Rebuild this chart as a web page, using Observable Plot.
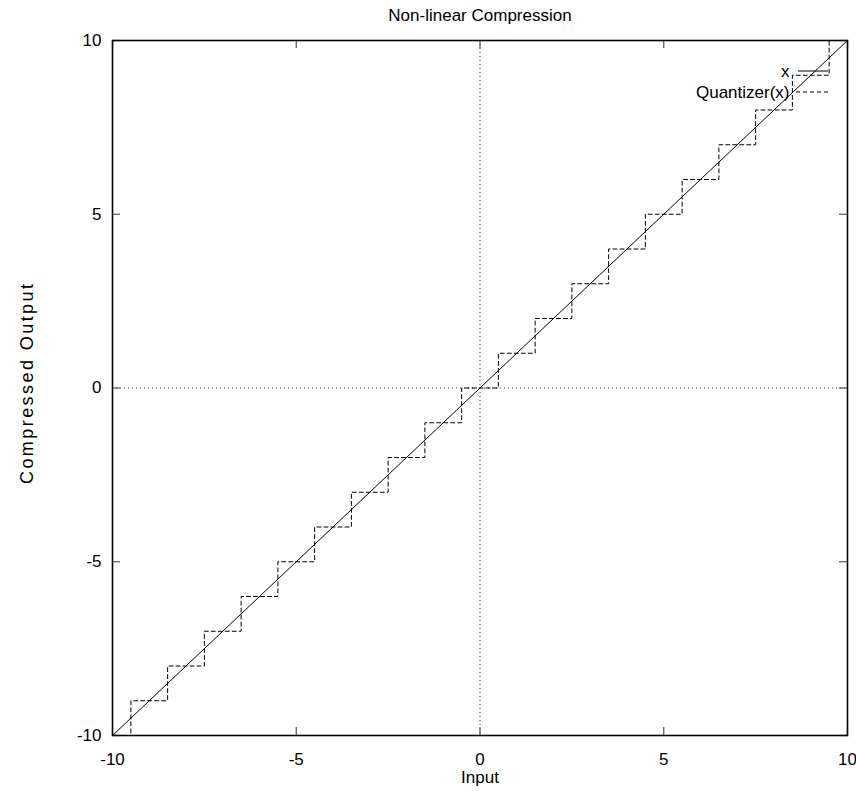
<!DOCTYPE html>
<html>
<head>
<meta charset="utf-8">
<script src="https://cdn.jsdelivr.net/npm/d3@7"></script>
<script src="https://cdn.jsdelivr.net/npm/@observablehq/plot@0.6"></script>
<style>
  html, body { margin: 0; padding: 0; background: #fff; }
  body { width: 856px; font-family: "Liberation Sans", Arial, sans-serif; }
  #title { height: 30px; position: relative; }
  #title span { position: absolute; left: 0; width: 960px; text-align: center; top: 7px; font-size: 17px; color: #000; line-height: 17px; }
  #chart svg { display: block; }
</style>
</head>
<body>
<div id="title"><span id="titleText"></span></div>
<div id="chart"></div>
<script>
// ---- data ----
const titleText = "Non-linear Compression";
const xLabel = "Input";
const yLabel = "Compressed Output";
const xTicks = [-10, -5, 0, 5, 10];
const yTicks = [-10, -5, 0, 5, 10];
const identityX = [-10, 10];
const identityY = [-10, 10];
// quantizer step breakpoints (step-after) and levels
const quantX = [-10, -9.5, -8.5, -7.5, -6.5, -5.5, -4.5, -3.5, -2.5, -1.5, -0.5, 0.5, 1.5, 2.5, 3.5, 4.5, 5.5, 6.5, 7.5, 8.5, 9.5, 10];
const quantY = [-10, -9, -8, -7, -6, -5, -4, -3, -2, -1, 0, 1, 2, 3, 4, 5, 6, 7, 8, 9, 10, 10];
const zeroAxis = [0];
const seriesNames = ["x", "Quantizer(x)"];

document.getElementById("titleText").textContent = titleText;

const identity = identityX.map((x, i) => ({x, y: identityY[i]}));
const quant = quantX.map((x, i) => ({x, y: quantY[i]}));

const W = 856, H = 761;
const mL = 112, mR = 9, mT = 10, mB = 56;
const plotW = W - mL - mR, plotH = H - mT - mB;
const tickLen = 8;

const plot = Plot.plot({
  width: W,
  height: H,
  marginLeft: mL,
  marginRight: mR,
  marginTop: mT,
  marginBottom: mB,
  style: {fontFamily: '"Liberation Sans", Arial, sans-serif', fontSize: "17px", background: "white", color: "black"},
  x: {domain: [-10, 10], axis: null},
  y: {domain: [-10, 10], axis: null},
  marks: [
    Plot.ruleX(zeroAxis, {x: d => d, stroke: "#333", strokeWidth: 1, strokeDasharray: "1,3"}),
    Plot.ruleY(zeroAxis, {y: d => d, stroke: "#333", strokeWidth: 1, strokeDasharray: "1,3"}),
    // inward ticks
    Plot.tickX(xTicks, {x: d => d, insetTop: plotH - tickLen, stroke: "#555", strokeWidth: 1.2}),
    Plot.tickX(xTicks, {x: d => d, insetBottom: plotH - tickLen, stroke: "#555", strokeWidth: 1.2}),
    Plot.tickY(yTicks, {y: d => d, insetRight: plotW - tickLen, stroke: "#555", strokeWidth: 1.2}),
    Plot.tickY(yTicks, {y: d => d, insetLeft: plotW - tickLen, stroke: "#555", strokeWidth: 1.2}),
    // series
    Plot.line(identity, {x: "x", y: "y", stroke: "black", strokeWidth: 1}),
    Plot.line(quant, {x: "x", y: "y", curve: "step-after", stroke: "black", strokeWidth: 1, strokeDasharray: "4,3"}),
    Plot.frame({stroke: "black", strokeWidth: 1.6}),
    // tick labels
    Plot.text(xTicks, {x: d => d, frameAnchor: "bottom", dy: 24, text: d => String(d), lineAnchor: "middle", fill: "black"}),
    Plot.text(yTicks, {y: d => d, frameAnchor: "left", dx: -11, text: d => String(d), textAnchor: "end", lineAnchor: "middle", fill: "black"}),
    // axis labels
    Plot.text([xLabel], {frameAnchor: "bottom", dy: 42, text: d => d, lineAnchor: "middle", fill: "black"}),
    Plot.text([yLabel], {frameAnchor: "left", dx: -85, dy: -4, rotate: -90, text: d => d, textAnchor: "middle", lineAnchor: "middle", fontSize: 18, fill: "black"}),
    // legend labels
    Plot.text([seriesNames[0]], {frameAnchor: "top-right", dx: -58, dy: 31, text: d => d, textAnchor: "end", lineAnchor: "middle", fill: "black"}),
    Plot.text([seriesNames[1]], {frameAnchor: "top-right", dx: -58, dy: 52, text: d => d, textAnchor: "end", lineAnchor: "middle", fill: "black"})
  ]
});

const svg = d3.select(plot);
// stretch y label to reference length
svg.selectAll("text").filter(function() { return this.textContent === yLabel; })
  .attr("textLength", 200).attr("lengthAdjust", "spacing");

// legend line samples (pixel positioned, inside frame top-right)
const xr = W - mR;
const lg = svg.append("g");
lg.append("line").attr("x1", xr - 49).attr("x2", xr - 19).attr("y1", mT + 31).attr("y2", mT + 31)
  .attr("stroke", "black").attr("stroke-width", 1);
lg.append("line").attr("x1", xr - 51).attr("x2", xr - 19).attr("y1", mT + 52).attr("y2", mT + 52)
  .attr("stroke", "black").attr("stroke-width", 1).attr("stroke-dasharray", "4,3");

document.getElementById("chart").appendChild(plot);
</script>
</body>
</html>
